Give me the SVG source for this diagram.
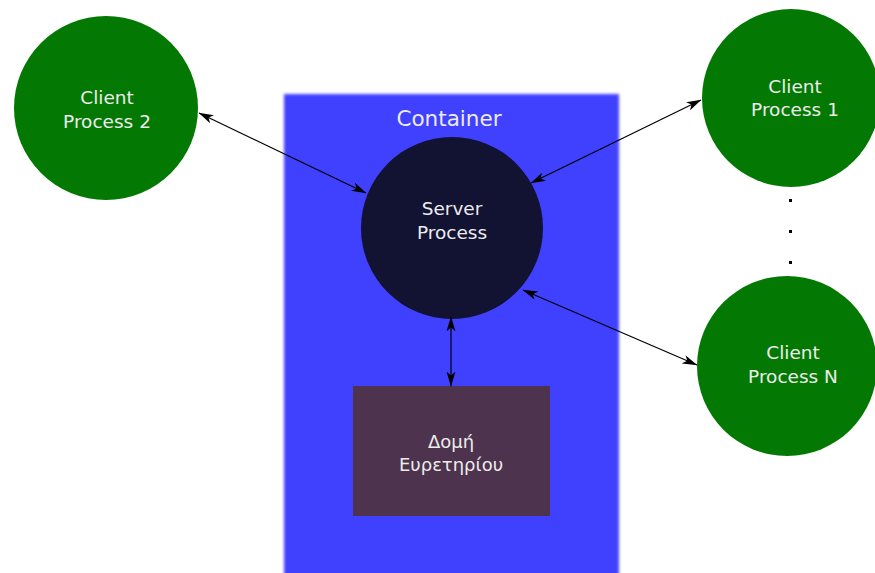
<svg xmlns="http://www.w3.org/2000/svg" width="875" height="573" viewBox="0 0 875 573">
<defs>
<filter id="blur" x="-5%" y="-5%" width="110%" height="110%"><feGaussianBlur stdDeviation="1.5"/></filter>
<marker id="ah" viewBox="0 0 15 9" refX="14.5" refY="4.5" markerWidth="15" markerHeight="9" markerUnits="userSpaceOnUse" orient="auto-start-reverse">
<path d="M0,0 L15,4.5 L0,9 L4,4.5 Z" fill="#000"/>
</marker>
</defs>
<style>
text{font-family:"DejaVu Sans",Verdana,sans-serif;fill:#ececec;text-anchor:middle}
.lbl{font-size:18.5px}
.client{fill:#037903}
.conn{stroke:#000;stroke-width:1.2;fill:none;marker-start:url(#ah);marker-end:url(#ah)}
</style>
<rect width="875" height="573" fill="#fff"/>
<g id="container">
<rect x="284" y="94" width="335" height="490" fill="#4040ff" filter="url(#blur)"/>
<text x="449" y="126" style="font-size:21.5px">Container</text>
</g>
<g id="server">
<circle cx="452" cy="228" r="91" fill="#121233"/>
<text class="lbl" x="452" y="215">Server</text>
<text class="lbl" x="452" y="239">Process</text>
</g>
<g id="index">
<rect x="353" y="386" width="197" height="130" fill="#4d334d"/>
<text class="lbl" x="451" y="448" style="font-size:18px">Δομή</text>
<text class="lbl" x="451" y="471" style="font-size:18px">Ευρετηρίου</text>
</g>
<g id="client2">
<circle class="client" cx="106" cy="108" r="92"/>
<text class="lbl" x="107" y="104">Client</text>
<text class="lbl" x="107" y="128">Process 2</text>
</g>
<g id="client1">
<circle class="client" cx="791" cy="98" r="89"/>
<text class="lbl" x="795" y="93">Client</text>
<text class="lbl" x="795" y="116">Process 1</text>
</g>
<g id="clientN">
<circle class="client" cx="787" cy="366" r="90"/>
<text class="lbl" x="793" y="359">Client</text>
<text class="lbl" x="793" y="383">Process N</text>
</g>
<g id="dots" fill="#000">
<rect x="789" y="199" width="3" height="3"/>
<rect x="789" y="230" width="3" height="3"/>
<rect x="789" y="261" width="3" height="3"/>
</g>
<g id="connectors">
<line class="conn" x1="199" y1="113" x2="366" y2="193"/>
<line class="conn" x1="701" y1="100" x2="531" y2="183"/>
<line class="conn" x1="451" y1="317" x2="451" y2="386"/>
<line class="conn" x1="523" y1="290" x2="697" y2="365"/>
</g>
</svg>
